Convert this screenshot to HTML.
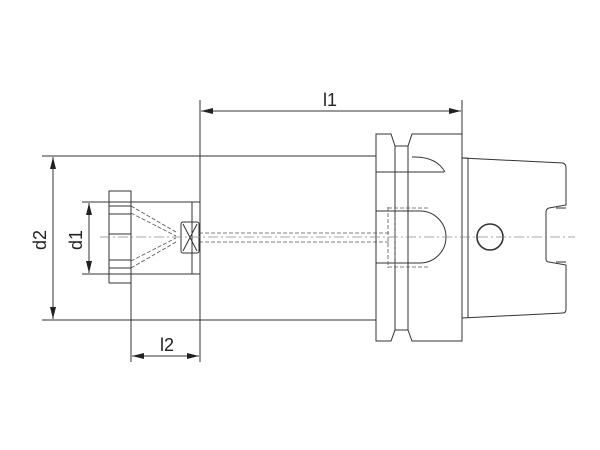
<!DOCTYPE html>
<html><head><meta charset="utf-8"><style>html,body{margin:0;padding:0;background:#fff}svg{display:block}</style></head>
<body>
<svg width="600" height="450" viewBox="0 0 600 450" xmlns="http://www.w3.org/2000/svg" font-family="Liberation Sans, sans-serif">
<defs>
<marker id="a" markerWidth="12" markerHeight="6" refX="12" refY="3" orient="auto" markerUnits="userSpaceOnUse"><path d="M0,0 L12,3 L0,6 z" fill="#222"/></marker>
</defs>
<g stroke="#333" stroke-width="1" fill="none">
<line x1="42" y1="156" x2="376" y2="156"/>
<line x1="42" y1="320" x2="376" y2="320"/>
<line x1="82" y1="202" x2="192" y2="202"/>
<line x1="82" y1="274" x2="192" y2="274"/>
<line x1="200" y1="100" x2="200" y2="362"/>
<line x1="462" y1="100" x2="462" y2="134"/>
<line x1="131" y1="274" x2="131" y2="362"/>
<line x1="53" y1="238" x2="53" y2="157" marker-end="url(#a)"/>
<line x1="53" y1="238" x2="53" y2="319" marker-end="url(#a)"/>
<line x1="89" y1="238" x2="89" y2="203" marker-end="url(#a)"/>
<line x1="89" y1="238" x2="89" y2="273" marker-end="url(#a)"/>
<line x1="330" y1="111" x2="201" y2="111" marker-end="url(#a)"/>
<line x1="330" y1="111" x2="461" y2="111" marker-end="url(#a)"/>
<line x1="165" y1="356" x2="132" y2="356" marker-end="url(#a)"/>
<line x1="165" y1="356" x2="199" y2="356" marker-end="url(#a)"/>
<rect x="200" y="156" width="176" height="164"/>
<rect x="109" y="191" width="22" height="92"/>
<line x1="109" y1="206" x2="131" y2="206"/><line x1="109" y1="214" x2="131" y2="214"/>
<line x1="109" y1="268" x2="131" y2="268"/><line x1="109" y1="260" x2="131" y2="260"/>
<line x1="109" y1="234" x2="131" y2="234"/>
<line x1="192" y1="202" x2="192" y2="274"/>
<line x1="192" y1="202" x2="200" y2="202"/><line x1="192" y1="274" x2="200" y2="274"/>
<rect x="181" y="222" width="18" height="31" rx="2"/>
<line x1="183" y1="224" x2="197" y2="251"/><line x1="197" y1="224" x2="183" y2="251"/>
<path d="M376 134 H391 L395 146 V330 L391 341 H376 Z"/>
<path d="M412 134 H462 V341 H412 L408 330 V146 Z"/>
<line x1="395" y1="146" x2="408" y2="146"/><line x1="395" y1="330" x2="408" y2="330"/>
<line x1="376" y1="172" x2="444" y2="172"/>
<path d="M412 157 Q436 156 445 172"/>
<line x1="376" y1="151" x2="376" y2="325"/>
<path d="M376 211 H420 A26 26 0 0 1 420 263 H376"/>
<line x1="462" y1="158" x2="468" y2="158"/>
<line x1="468" y1="158" x2="468" y2="318"/>
<path d="M462 158 L563 163 Q566 164 566 168 V205 L549 208 Q546 209 546 212 V259 Q546 262 549 262 L566 265 V309 Q566 313 563 313 L462 318"/>
<line x1="556" y1="208" x2="566" y2="208" /><line x1="556" y1="262" x2="566" y2="262"/>
<circle cx="490" cy="237" r="13" stroke-width="1.6"/>
</g>
<g stroke="#555" stroke-width="0.8" fill="none" stroke-dasharray="4,2">
<line x1="131" y1="206" x2="176" y2="232"/><line x1="131" y1="213" x2="176" y2="236"/>
<line x1="131" y1="268" x2="176" y2="242"/><line x1="131" y1="261" x2="176" y2="238"/>
<line x1="199" y1="233" x2="390" y2="233"/><line x1="199" y1="242" x2="390" y2="242"/>
<path d="M388 207 V268 M395 207 V268 M388 208 H428 M388 267 H428"/>
</g>
<g stroke="#888" stroke-width="0.7" stroke-dasharray="10,3,2,3">
<line x1="100" y1="237" x2="575" y2="237"/>
</g>
<g fill="#222" font-size="18">
<text x="330" y="106" text-anchor="middle">l1</text>
<text x="167" y="351" text-anchor="middle">l2</text>
<text transform="translate(46,240) rotate(-90)" text-anchor="middle">d2</text>
<text transform="translate(82,240) rotate(-90)" text-anchor="middle">d1</text>
</g>
</svg>
</body></html>
